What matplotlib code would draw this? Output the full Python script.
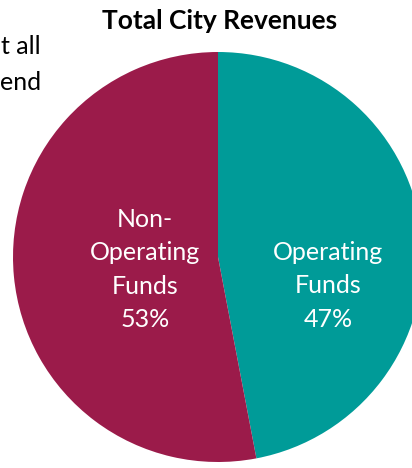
import matplotlib.pyplot as plt

FONT = ["Lato", "DejaVu Sans"]
TEAL = "#009b98"
MAROON = "#9b1b4a"

categories = ["Operating\nFunds", "Non-\nOperating\nFunds"]
values = [47, 53]
colors = [TEAL, MAROON]
title = "Total City Revenues"

W, H = 412, 468
fig = plt.figure(figsize=(W / 100, H / 100), dpi=100)

# pie centre (218, 257) px, radius 205 px
cx, cy, r = 218, 257, 205
ax = fig.add_axes([(cx - r) / W, (H - cy - r) / H, 2 * r / W, 2 * r / H])
ax.pie(values, colors=colors, startangle=90, counterclock=False,
       wedgeprops=dict(linewidth=0), radius=1.0)
ax.set_xlim(-1, 1)
ax.set_ylim(-1, 1)
ax.set_axis_off()

total = sum(values)
label_pos = [(0.537, -0.14), (-0.356, -0.06)]
for cat, v, (x, y) in zip(categories, values, label_pos):
    ax.text(x, y, f"{cat}\n{v / total * 100:.0f}%", ha="center", va="center",
            color="white", fontsize=18, family=FONT, linespacing=1.55)

fig.text(220 / W, 1 - 21 / H, title, ha="center", va="center",
         fontsize=19, fontweight="bold", family=FONT)

# fragments of the neighbouring text box, cut off at the left edge
fig.text(41 / W, 1 - 46 / H, "t all", ha="right", va="center", fontsize=18, family=FONT)
fig.text(41 / W, 1 - 83 / H, "end", ha="right", va="center", fontsize=18, family=FONT)

fig.savefig("out.png", dpi=100)
